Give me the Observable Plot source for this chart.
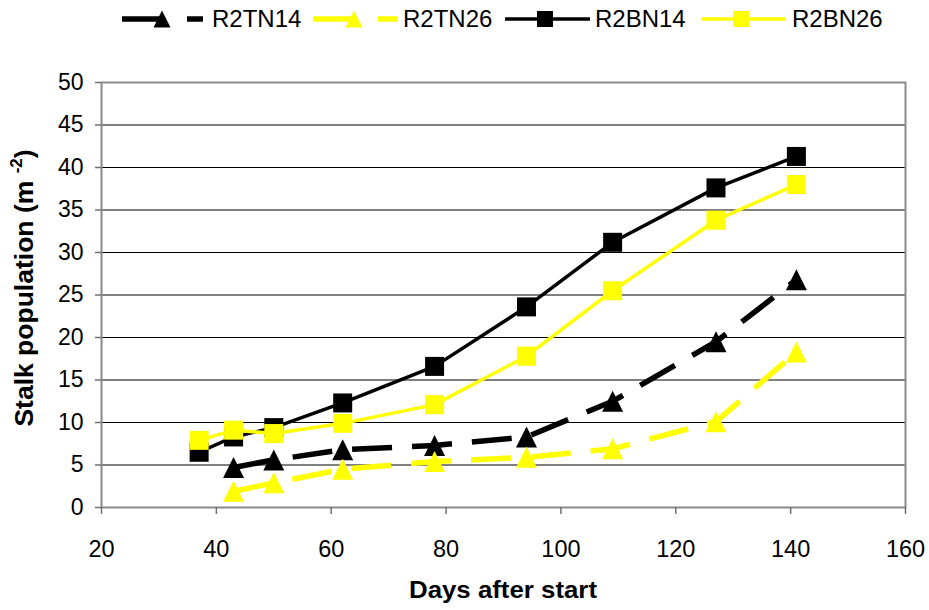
<!DOCTYPE html>
<html>
<head>
<meta charset="utf-8">
<script src="https://cdn.jsdelivr.net/npm/d3@7"></script>
<script src="https://cdn.jsdelivr.net/npm/@observablehq/plot@0.6"></script>
<style>
  html, body { margin: 0; padding: 0; background: #fff; }
  body { width: 929px; height: 610px; overflow: hidden; font-family: "Liberation Sans", Arial, sans-serif; }
  #legend { display: block; }
  #chart svg { display: block; }
</style>
</head>
<body>
<svg id="legend" width="929" height="40"></svg>
<div id="chart"></div>
<script>
// ---- data ----
const seriesNames = ["R2TN14", "R2TN26", "R2BN14", "R2BN26"];
const daysTN = [43, 50, 62, 78, 94, 109, 127, 141];
const daysBN = [37, 43, 50, 62, 78, 94, 109, 127, 141];
const r2tn14 = [4.7, 5.6, 6.8, 7.3, 8.3, 12.5, 19.5, 26.8];
const r2tn26 = [1.9, 2.9, 4.5, 5.4, 5.9, 6.9, 10.1, 18.3];
const r2bn14 = [6.5, 8.3, 9.4, 12.3, 16.6, 23.6, 31.2, 37.6, 41.3];
const r2bn26 = [7.9, 9.1, 8.7, 9.9, 12.1, 17.8, 25.5, 33.8, 38.0];
const xTicks = [20, 40, 60, 80, 100, 120, 140, 160];
const yTicks = [0, 5, 10, 15, 20, 25, 30, 35, 40, 45, 50];

const toRows = (days, vals) => days.map((d, i) => ({day: d, value: vals[i]}));
const tn14 = toRows(daysTN, r2tn14);
const tn26 = toRows(daysTN, r2tn26);
const bn14 = toRows(daysBN, r2bn14);
const bn26 = toRows(daysBN, r2bn26);

const BLACK = "#000000", YELLOW = "#FFFF00";
const FONT = '"Liberation Sans", Arial, sans-serif';

// custom symbols (r maps to half-size)
const tri = {draw(ctx, size) { const h = Math.sqrt(size / Math.PI); ctx.moveTo(0, -h); ctx.lineTo(h, h); ctx.lineTo(-h, h); ctx.closePath(); }};
const sq = {draw(ctx, size) { const h = Math.sqrt(size / Math.PI); ctx.rect(-h, -h, 2 * h, 2 * h); }};

const dash = "40,20";

const plot = Plot.plot({
  width: 929,
  height: 570,
  marginTop: 42,
  marginBottom: 103,
  marginLeft: 101,
  marginRight: 24,
  style: {fontFamily: FONT, color: "#000", background: "#fff"},
  x: {domain: [20, 160], label: null},
  y: {domain: [0, 50], label: null},
  marks: [
    Plot.ruleY(yTicks, {stroke: "#000", strokeWidth: 1}),
    Plot.frame({stroke: "#8a8a8a", strokeWidth: 2}),
    Plot.axisY(yTicks, {tickSize: 6, tickPadding: 12, fontSize: 23, stroke: "#707070", strokeWidth: 1.5}),
    Plot.axisX(xTicks, {tickSize: 7, tickPadding: 26, fontSize: 23.5, stroke: "#707070", strokeWidth: 1.5}),
    Plot.line(tn14, {x: "day", y: "value", stroke: BLACK, strokeWidth: 5.5, strokeDasharray: dash, strokeLinecap: "butt"}),
    Plot.dot(tn14, {x: "day", y: "value", symbol: tri, r: 10.5, fill: BLACK, stroke: "none"}),
    Plot.line(tn26, {x: "day", y: "value", stroke: YELLOW, strokeWidth: 5.5, strokeDasharray: dash, strokeLinecap: "butt"}),
    Plot.dot(tn26, {x: "day", y: "value", symbol: tri, r: 10.5, fill: YELLOW, stroke: "none"}),
    Plot.line(bn14, {x: "day", y: "value", stroke: BLACK, strokeWidth: 3.5}),
    Plot.dot(bn14, {x: "day", y: "value", symbol: sq, r: 9.5, fill: BLACK, stroke: "none"}),
    Plot.line(bn26, {x: "day", y: "value", stroke: YELLOW, strokeWidth: 3.5}),
    Plot.dot(bn26, {x: "day", y: "value", symbol: sq, r: 9.5, fill: YELLOW, stroke: "none"})
  ]
});
document.getElementById("chart").appendChild(plot);

// axis titles
const svg = d3.select(plot);
const yt = svg.append("text")
  .attr("transform", "translate(33,248) rotate(-90)")
  .attr("text-anchor", "middle")
  .attr("font-family", FONT)
  .attr("font-weight", "bold")
  .attr("font-size", 26.5)
  .attr("fill", "#000");
yt.append("tspan").text("Stalk population (m ");
yt.append("tspan").attr("font-size", 17).attr("dy", -11).text("-2");
yt.append("tspan").attr("dy", 11).text(")");

svg.append("text")
  .attr("x", 503).attr("y", 558)
  .attr("text-anchor", "middle")
  .attr("font-family", FONT)
  .attr("font-weight", "bold")
  .attr("font-size", 24)
  .attr("textLength", 188)
  .attr("lengthAdjust", "spacingAndGlyphs")
  .attr("fill", "#000")
  .text("Days after start");

// legend
const lg = d3.select("#legend");
const items = [
  {name: seriesNames[0], color: BLACK, x0: 122, x1: 203, mx: 162, text: 212, dashed: true},
  {name: seriesNames[1], color: YELLOW, x0: 313, x1: 397, mx: 354, text: 403, dashed: true},
  {name: seriesNames[2], color: BLACK, x0: 505, x1: 590, mx: 545, text: 595, dashed: false},
  {name: seriesNames[3], color: YELLOW, x0: 701, x1: 786, mx: 741, text: 792, dashed: false}
];
const ly = 19;
for (const it of items) {
  lg.append("line")
    .attr("x1", it.x0).attr("x2", it.x1).attr("y1", ly).attr("y2", ly)
    .attr("stroke", it.color)
    .attr("stroke-width", it.dashed ? 5.5 : 3.5)
    .attr("stroke-dasharray", it.dashed ? "40,25" : null);
  const s = it.dashed ? 8.5 : 8;
  const p = d3.path();
  if (it.dashed) { p.moveTo(it.mx, ly - s); p.lineTo(it.mx + s, ly + s); p.lineTo(it.mx - s, ly + s); p.closePath(); }
  else { p.rect(it.mx - s, ly - s, 2 * s, 2 * s); }
  lg.append("path").attr("d", p.toString()).attr("fill", it.color);
  lg.append("text")
    .attr("x", it.text).attr("y", 27)
    .attr("font-family", FONT)
    .attr("font-size", 24)
    .attr("fill", "#000")
    .text(it.name);
}
</script>
</body>
</html>
